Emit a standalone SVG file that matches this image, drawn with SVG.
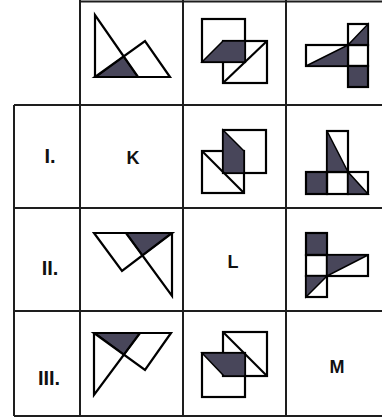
<svg xmlns="http://www.w3.org/2000/svg" width="382" height="419" viewBox="0 0 382 419">
<style>
.grid{stroke:#1e1e1e;stroke-width:2;fill:none}
.ln{stroke:#000;stroke-width:2.2;fill:none;stroke-linejoin:miter}
.dk{fill:#48465a;stroke:#000;stroke-width:1.5;stroke-linejoin:miter}
.lab{font-family:"Liberation Sans",Arial,sans-serif;font-weight:bold;font-size:20px;fill:#111;text-anchor:middle}
.let{font-family:"Liberation Sans",Arial,sans-serif;font-weight:bold;font-size:18px;fill:#111;text-anchor:middle}
</style>
<rect width="382" height="419" fill="#fff"/>
<g id="grid" class="grid">
<line x1="80" y1="1.5" x2="382" y2="1.5"/>
<line x1="14" y1="105" x2="382" y2="105"/>
<line x1="14" y1="208" x2="382" y2="208"/>
<line x1="14" y1="311" x2="382" y2="311"/>
<line x1="14" y1="416" x2="382" y2="416"/>
<line x1="14" y1="105" x2="14" y2="416"/>
<line x1="80" y1="0" x2="80" y2="416"/>
<line x1="183" y1="0" x2="183" y2="416"/>
<line x1="286" y1="0" x2="286" y2="416"/>
</g>
<g id="connectors"></g>
<g id="fig-top-1">
<polygon class="dk" points="96,77 123.5,56.5 138,77"/>
<polygon class="ln" points="95,15 95,77 138,77"/>
<polygon class="ln" points="95,77 145,41 170,77"/>
</g>
<g id="fig-top-2">
<rect class="ln" x="202" y="19" width="43" height="43"/>
<rect class="ln" x="223" y="41" width="44" height="42"/>
<polygon class="dk" points="202,62 223,41 245,41 245,62"/>
<line class="ln" x1="223" y1="83" x2="267" y2="41"/>
</g>
<g id="fig-top-3">
<rect class="ln" x="306" y="45" width="42" height="21"/>
<polygon class="dk" points="306,66 348,66 348,45"/>
<rect class="ln" x="348" y="24" width="20" height="21"/>
<polygon class="dk" points="348,45 368,45 368,24"/>
<rect class="ln" x="348" y="45" width="20" height="21"/>
<rect class="dk" x="348" y="66" width="20" height="21" style="stroke-width:2.2"/>
</g>
<g id="label-I"><text class="lab" x="50" y="163">I.</text></g>
<g id="cell-K"><text class="let" x="133" y="164">K</text></g>
<g id="fig-I-2">
<rect class="ln" x="223" y="130" width="43" height="43"/>
<rect class="ln" x="202" y="151" width="42" height="42"/>
<polygon class="dk" points="223,130 244,151 244,173 223,173"/>
<line class="ln" x1="202" y1="151" x2="244" y2="193"/>
</g>
<g id="fig-I-3">
<rect class="ln" x="327" y="131" width="21" height="41"/>
<polygon class="dk" points="327,131 327,172 348,172"/>
<rect class="dk" x="306" y="172" width="21" height="22" style="stroke-width:2.2"/>
<rect class="ln" x="327" y="172" width="21" height="22"/>
<rect class="ln" x="348" y="172" width="20" height="22"/>
<polygon class="dk" points="348,172 348,194 368,194"/>
</g>
<g id="label-II"><text class="lab" x="50" y="275">II.</text></g>
<g id="fig-II-1">
<polygon class="dk" points="126,233 172,233 142.4,255.5"/>
<polygon class="ln" points="94,233 172,233 122,271"/>
<polygon class="ln" points="126,233 172,233 172,296"/>
</g>
<g id="cell-L"><text class="let" x="233" y="268">L</text></g>
<g id="fig-II-3">
<rect class="dk" x="306" y="233" width="21" height="22" style="stroke-width:2.2"/>
<rect class="ln" x="306" y="255" width="21" height="21"/>
<rect class="ln" x="306" y="276" width="21" height="21"/>
<polygon class="dk" points="306,276 327,276 306,297"/>
<rect class="ln" x="327" y="255" width="41" height="21"/>
<polygon class="dk" points="327,255 368,255 327,276"/>
</g>
<g id="label-III"><text class="lab" x="49" y="385">III.</text></g>
<g id="fig-III-1">
<polygon class="dk" points="95,333 140,333 123.9,354.7"/>
<polygon class="ln" points="94,333 94,395 140,333"/>
<polygon class="ln" points="94,333 171,333 145,370"/>
</g>
<g id="fig-III-2">
<rect class="ln" x="223" y="332" width="44" height="44"/>
<rect class="ln" x="202" y="353" width="43" height="44"/>
<polygon class="dk" points="202,353 245,353 245,376 224,376"/>
<line class="ln" x1="223" y1="332" x2="267" y2="376"/>
</g>
<g id="cell-M"><text class="let" x="337" y="373">M</text></g>
</svg>
